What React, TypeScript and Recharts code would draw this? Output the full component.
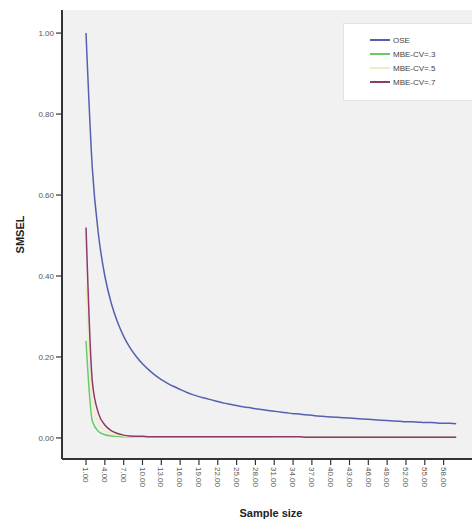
import React from 'react'
import {
  LineChart,
  Line,
  XAxis,
  YAxis,
  CartesianGrid,
} from 'recharts'

// sample size 1..60 on the x axis
const sampleSizes = Array.from({ length: 60 }, (_, i) => i + 1)

const xTicks = [1, 4, 7, 10, 13, 16, 19, 22, 25, 28, 31, 34, 37, 40, 43, 46, 49, 52, 55, 58]
const yTicks = [0, 0.2, 0.4, 0.6, 0.8, 1.0]

const ose = [
  1.0, 0.667, 0.5, 0.4, 0.334, 0.287, 0.251, 0.223, 0.201, 0.183,
  0.168, 0.155, 0.144, 0.135, 0.127, 0.12, 0.113, 0.107, 0.102, 0.098,
  0.094, 0.09, 0.086, 0.083, 0.08, 0.077, 0.075, 0.072, 0.07, 0.068,
  0.066, 0.064, 0.062, 0.06, 0.059, 0.057, 0.056, 0.054, 0.053, 0.052,
  0.051, 0.05, 0.049, 0.048, 0.047, 0.046, 0.045, 0.044, 0.043, 0.042,
  0.041, 0.04, 0.04, 0.039, 0.038, 0.038, 0.037, 0.036, 0.036, 0.035,
]

const mbeCv3 = [
  0.24, 0.042, 0.016, 0.008, 0.005, 0.004, 0.003, 0.003, 0.003, 0.003,
  0.003, 0.003, 0.003, 0.003, 0.003, 0.003, 0.003, 0.003, 0.003, 0.003,
  0.003, 0.003, 0.003, 0.003, 0.003, 0.003, 0.003, 0.003, 0.003, 0.003,
  0.002, 0.002, 0.002, 0.002, 0.002, 0.002, 0.002, 0.002, 0.002, 0.002,
  0.002, 0.002, 0.002, 0.002, 0.002, 0.002, 0.002, 0.002, 0.002, 0.002,
  0.002, 0.002, 0.002, 0.002, 0.002, 0.002, 0.002, 0.002, 0.002, 0.002,
]

const mbeCv5 = [
  0.38, 0.09, 0.036, 0.018, 0.01, 0.007, 0.005, 0.004, 0.003, 0.003,
  0.003, 0.003, 0.003, 0.003, 0.003, 0.003, 0.003, 0.003, 0.003, 0.003,
  0.003, 0.003, 0.003, 0.003, 0.003, 0.003, 0.003, 0.003, 0.003, 0.003,
  0.002, 0.002, 0.002, 0.002, 0.002, 0.002, 0.002, 0.002, 0.002, 0.002,
  0.002, 0.002, 0.002, 0.002, 0.002, 0.002, 0.002, 0.002, 0.002, 0.002,
  0.002, 0.002, 0.002, 0.002, 0.002, 0.002, 0.002, 0.002, 0.002, 0.002,
]

const mbeCv7 = [
  0.52, 0.14, 0.06, 0.032, 0.018, 0.011, 0.007, 0.005, 0.004, 0.004,
  0.003, 0.003, 0.003, 0.003, 0.003, 0.003, 0.003, 0.003, 0.003, 0.003,
  0.003, 0.003, 0.003, 0.003, 0.003, 0.003, 0.003, 0.003, 0.003, 0.003,
  0.003, 0.003, 0.003, 0.003, 0.003, 0.002, 0.002, 0.002, 0.002, 0.002,
  0.002, 0.002, 0.002, 0.002, 0.002, 0.002, 0.002, 0.002, 0.002, 0.002,
  0.002, 0.002, 0.002, 0.002, 0.002, 0.002, 0.002, 0.002, 0.002, 0.002,
]

const series = [
  { key: 'ose', name: 'OSE', color: '#5560b0' },
  { key: 'cv3', name: 'MBE-CV=.3', color: '#66cc66' },
  { key: 'cv5', name: 'MBE-CV=.5', color: '#f2ecc4' },
  { key: 'cv7', name: 'MBE-CV=.7', color: '#8c3a6a' },
]

const data = sampleSizes.map((n, i) => ({
  n,
  ose: ose[i],
  cv3: mbeCv3[i],
  cv5: mbeCv5[i],
  cv7: mbeCv7[i],
}))

const FONT = '"Liberation Sans", Arial, sans-serif'

function RotatedTick(props: any) {
  const { x, y, payload } = props
  return (
    <g transform={`translate(${x},${y})`}>
      <text
        transform="rotate(90)"
        x={0}
        y={0}
        dy="0.35em"
        textAnchor="start"
        fontSize={8}
        fill="#555"
        fontFamily={FONT}
      >
        {Number(payload.value).toFixed(2)}
      </text>
    </g>
  )
}

// legend box drawn over the plot, top right
function LegendBox() {
  return (
    <div
      style={{
        position: 'absolute',
        left: 343,
        top: 23,
        width: 140,
        height: 78,
        background: '#fff',
        border: '1px solid #e2e2e2',
        boxSizing: 'border-box',
        paddingTop: 9,
        fontFamily: FONT,
      }}
    >
      {series.map((s) => (
        <div key={s.key} style={{ display: 'flex', alignItems: 'center', height: 14 }}>
          <div style={{ width: 20, height: 2, background: s.color, marginLeft: 26 }} />
          <span style={{ fontSize: 8, color: '#444', marginLeft: 3 }}>{s.name}</span>
        </div>
      ))}
    </div>
  )
}

export default function App() {
  return (
    <div
      style={{
        position: 'fixed',
        left: 0,
        top: 0,
        width: 472,
        height: 525,
        overflow: 'hidden',
        background: '#fff',
      }}
    >
      <LineChart
        width={480}
        height={525}
        data={data}
        margin={{ top: 10, right: 0, left: 10, bottom: 6 }}
      >
        <CartesianGrid fill="#f1f1f1" horizontal={false} vertical={false} />
        <XAxis
          xAxisId="top"
          orientation="top"
          dataKey="n"
          type="number"
          domain={[-2.83, 63.8]}
          tick={false}
          tickLine={false}
          height={0}
          axisLine={{ stroke: '#666', strokeWidth: 1.5 }}
        />
        <XAxis
          dataKey="n"
          type="number"
          domain={[-2.83, 63.8]}
          ticks={xTicks}
          interval={0}
          height={60}
          tickSize={6}
          tickMargin={2}
          tick={<RotatedTick />}
          tickLine={{ stroke: '#333', strokeWidth: 1.2 }}
          axisLine={{ stroke: '#333', strokeWidth: 2 }}
          allowDataOverflow
          label={{
            value: 'Sample size',
            position: 'insideBottom',
            offset: 2,
            style: { fontFamily: FONT, fontSize: 11, fontWeight: 'bold', fill: '#222' },
          }}
        />
        <YAxis
          type="number"
          domain={[-0.052, 1.057]}
          ticks={yTicks}
          width={52}
          tickSize={6}
          tickMargin={2}
          tickFormatter={(v: number) => v.toFixed(2)}
          tick={{ fontSize: 8, fill: '#555', fontFamily: FONT }}
          tickLine={{ stroke: '#333', strokeWidth: 1.2 }}
          axisLine={{ stroke: '#333', strokeWidth: 2 }}
          allowDataOverflow
          label={{
            value: 'SMSEL',
            angle: -90,
            position: 'insideLeft',
            offset: 10,
            style: { fontFamily: FONT, fontSize: 11, fontWeight: 'bold', fill: '#222', textAnchor: 'middle' },
          }}
        />
        {series.map((s) => (
          <Line
            key={s.key}
            dataKey={s.key}
            name={s.name}
            type="monotone"
            stroke={s.color}
            strokeWidth={1.5}
            dot={false}
            activeDot={false}
            isAnimationActive={false}
          />
        ))}
      </LineChart>
      <LegendBox />
    </div>
  )
}
